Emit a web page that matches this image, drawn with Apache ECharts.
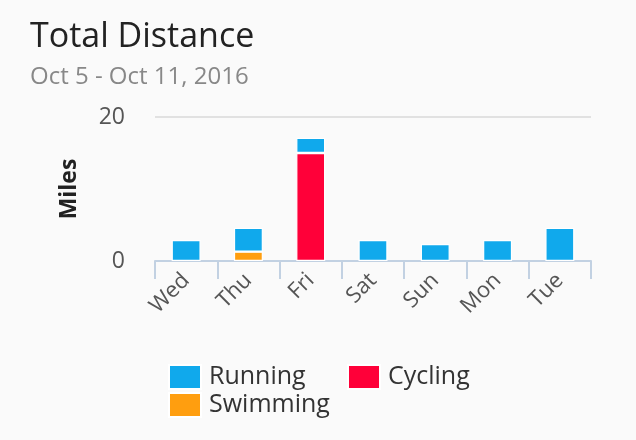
<!DOCTYPE html>
<html><head><meta charset="utf-8">
<script src="https://cdn.jsdelivr.net/npm/echarts@6/dist/echarts.min.js"></script>
<style>html,body{margin:0;padding:0;background:#fafafa}#c{width:636px;height:440px}</style>
</head><body><div id="c"></div>
<script>
const categories = ['Wed','Thu','Fri','Sat','Sun','Mon','Tue'];
const cycling = [0, 0, 15.0, 0, 0, 0, 0];
const swimming = [0, 1.3, 0, 0, 0, 0, 0];
const running = [2.9, 3.3, 2.1, 2.9, 2.35, 2.9, 4.6];
const colors = {Running:'#10a9ec', Cycling:'#ff0039', Swimming:'#ff9e0f'};
const FONT = 'Open Sans';
const chart = echarts.init(document.getElementById('c'));
const mk = (name, data) => ({
  name, type:'bar', stack:'total', data: data.map(v => v === 0 ? null : v),
  barWidth: 29, itemStyle:{color:colors[name], borderColor:'#ffffff', borderWidth:1.2},
  emphasis:{disabled:true}
});
const legendText = {fontFamily:FONT, fontSize:25, color:'#333', padding:[0,0,0,3]};
chart.setOption({
  backgroundColor:'#fafafa',
  animation:false,
  title:[
    {text:'Total Distance', left:30, top:20, padding:0, textStyle:{fontFamily:FONT, fontSize:34, fontWeight:'normal', color:'#222'}},
    {text:'Oct 5 - Oct 11, 2016', left:30, top:65, padding:0, textStyle:{fontFamily:FONT, fontSize:24, fontWeight:'normal', color:'#888'}}
  ],
  legend:[
    {data:['Running'], left:168, top:364, padding:0, itemWidth:32, itemHeight:24, icon:'rect', textStyle:legendText, selectedMode:false},
    {data:['Cycling'], left:347, top:364, padding:0, itemWidth:32, itemHeight:24, icon:'rect', textStyle:legendText, selectedMode:false},
    {data:['Swimming'], left:168, top:392, padding:0, itemWidth:32, itemHeight:24, icon:'rect', textStyle:legendText, selectedMode:false}
  ],
  grid:{left:155, right:45, top:117, height:144, containLabel:false},
  xAxis:{
    type:'category', data:categories, boundaryGap:true,
    axisLine:{show:true, lineStyle:{color:'#c2d1e2', width:2}},
    axisTick:{show:true, alignWithLabel:false, interval:0, length:18, lineStyle:{color:'#c2d1e2', width:2}},
    axisLabel:{rotate:45, margin:16, fontFamily:FONT, fontSize:22, color:'#555'}
  },
  yAxis:{
    type:'value', min:0, max:20, interval:20,
    name:'Miles', nameLocation:'middle', nameRotate:90, nameGap:74,
    nameTextStyle:{fontFamily:FONT, fontSize:23, fontWeight:'bold', color:'#222'},
    axisLine:{show:false}, axisTick:{show:false},
    axisLabel:{margin:30, fontFamily:FONT, fontSize:23, color:'#555'},
    splitLine:{lineStyle:{color:'#d8d8d8', width:1.5}}
  },
  series:[mk('Cycling', cycling), mk('Swimming', swimming), mk('Running', running)]
});
</script></body></html>
